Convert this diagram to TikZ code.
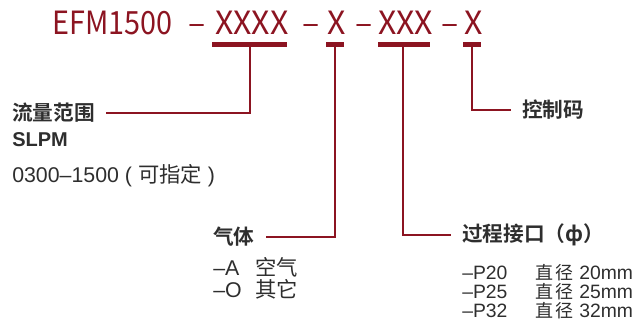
\documentclass[tikz,border=0pt]{standalone}
\usepackage{fontspec}
\setmainfont{Liberation Sans}
\newfontfamily\cjk{Noto Sans CJK SC}[BoldFont={Noto Sans CJK SC Bold}]
\newfontfamily\titlefont{Noto Sans CJK SC}
\newfontfamily\modelfont{Noto Sans CJK SC}[FakeStretch=0.9]
\definecolor{efmred}{HTML}{8C1421}
\definecolor{efmtext}{HTML}{2E2E2E}
\newcommand\headsize{\fontsize{15.5}{18}\selectfont}
\newcommand\entrysize{\fontsize{16}{19}\selectfont}
\newcommand\portsize{\fontsize{14.5}{17}\selectfont}
\newcommand\dia{{\cjk\fontsize{13.5}{16}\selectfont 直\hspace{2pt}径}}

\tikzset{
  codepart/.style={text=efmred, font=\titlefont\fontsize{24}{28}\selectfont, inner sep=0pt, anchor=base west},
  codebar/.style={draw=efmred, line width=3.75pt},
  lead/.style={draw=efmred, line width=1.5pt, shorten >=8pt},
  head/.style={text=efmtext, font=\cjk\bfseries\headsize, inner sep=0pt, anchor=west},
  entry/.style={text=efmtext, font=\entrysize, inner sep=0pt, anchor=base west},
}

\begin{document}
\begin{tikzpicture}[x=0.75pt,y=-0.75pt]
\useasboundingbox (0,0) rectangle (643,333);

% model code
\node[codepart, font=\modelfont\fontsize{24}{28}\selectfont] (model) at (52,34) {EFM1500};
\node[codepart] (dash1) at (188,34) {–};
\node[codepart] (flowcode) at (215,34) {XXXX};
\node[codepart] (dash2) at (302,34) {–};
\node[codepart] (gascode) at (327,34) {X};
\node[codepart] (dash3) at (355,34) {–};
\node[codepart] (portcode) at (378,34) {XXX};
\node[codepart] (dash4) at (441,34) {–};
\node[codepart] (ctrlcode) at (464,34) {X};

\draw[codebar] (212,44) -- (287,44);
\draw[codebar] (326,44) -- (344,44);
\draw[codebar] (378,44) -- (430,44);
\draw[codebar] (463,44) -- (481,44);

\coordinate (flowstem) at (250,44);
\coordinate (gasstem) at (335,44);
\coordinate (portstem) at (403,44);
\coordinate (ctrlstem) at (472,44);

% flow range
\node[head] (flow) at (12,113) {流量范围};
\node[entry, font=\bfseries\fontsize{15}{18}\selectfont] (slpm) at (12,146) {SLPM};
\node[entry] (range) at (12,182) {0300–1500 ( {\cjk 可指定} )};

% gas
\node[head] (gas) at (213,237) {气体};
\node[entry] (air) at (213,275) {\makebox[31.5pt][l]{–A}{\cjk 空气}};
\node[entry] (other) at (213,297) {\makebox[31.5pt][l]{–O}{\cjk 其它}};

% process connection
\node[head] (port) at (462,235) {过程接口（ф）};
\node[entry, font=\portsize] (p20) at (462,279) {\makebox[54.75pt][l]{–P20}\dia{} 20mm};
\node[entry, font=\portsize] (p25) at (462,298) {\makebox[54.75pt][l]{–P25}\dia{} 25mm};
\node[entry, font=\portsize] (p32) at (462,317) {\makebox[54.75pt][l]{–P32}\dia{} 32mm};

% control code
\node[head] (ctrl) at (522,110) {控制码};

\draw[lead] (flowstem) |- (flow.east);
\draw[lead] (gasstem) |- (gas.east);
\draw[lead] (portstem) |- (port.west);
\draw[lead] (ctrlstem) |- (ctrl.west);
\end{tikzpicture}
\end{document}
